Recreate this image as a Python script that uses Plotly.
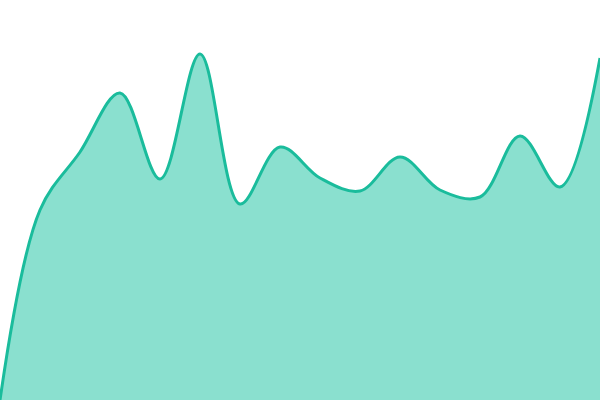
import plotly.graph_objects as go

# one point every 40 px across the 600 px wide chart
x_idx = list(range(16))
values = [0, 190, 248, 307, 221, 346, 196, 253, 222, 209, 243, 210, 203, 264, 213, 342]

line_color = '#1abc9c'
fill_color = '#8ae0cf'

fig = go.Figure()
fig.add_trace(go.Scatter(
    x=x_idx, y=values,
    mode='lines',
    line=dict(color=line_color, width=3, shape='spline', smoothing=1),
    fill='tozeroy',
    fillcolor=fill_color,
    hoverinfo='skip'
))

fig.update_layout(
    width=600, height=400,
    margin=dict(l=0, r=0, t=0, b=0),
    paper_bgcolor='white',
    plot_bgcolor='white',
    showlegend=False,
    xaxis=dict(visible=False, range=[0, 15]),
    yaxis=dict(visible=False, range=[0, 400]),
)

# drop the page's default 8px body margin so the chart sits flush
fig.write_html("out.html", config={'displayModeBar': False},
               post_script="document.body.style.margin='0';")
